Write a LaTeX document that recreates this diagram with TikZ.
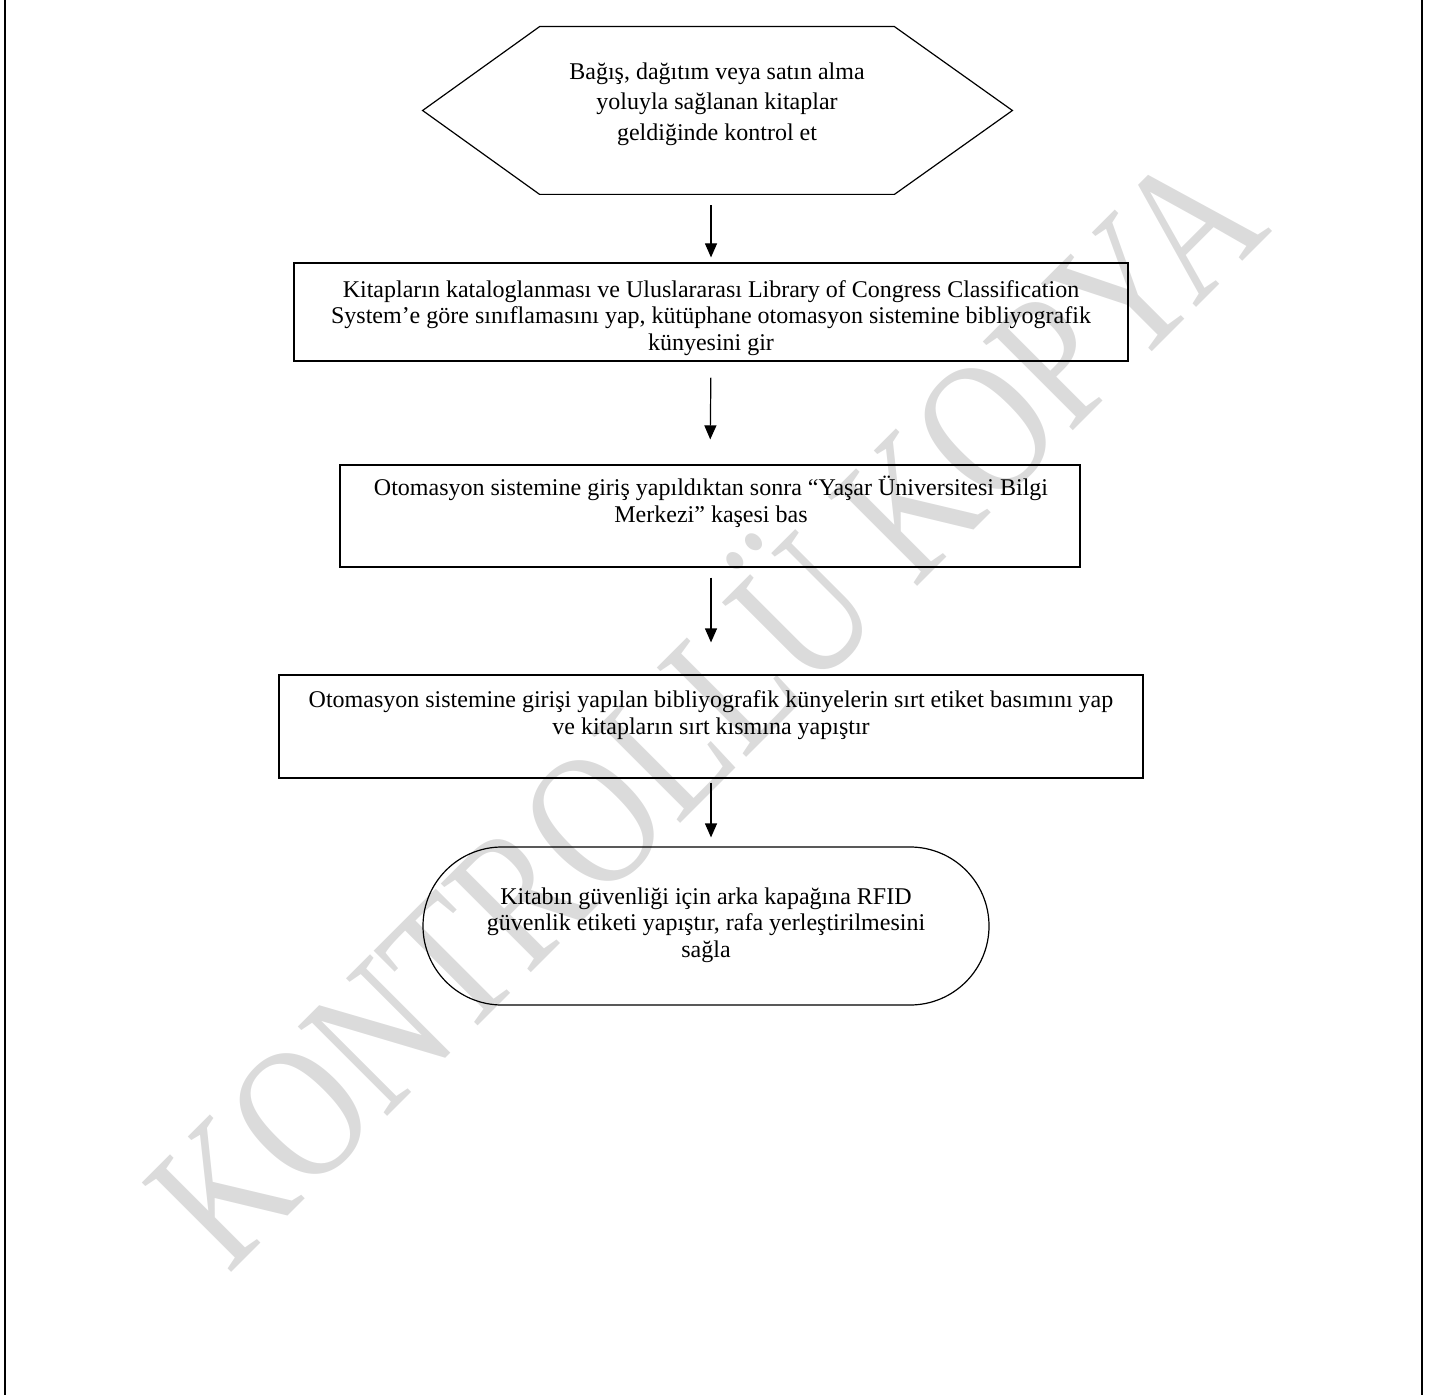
\documentclass[tikz,border=0pt]{standalone}
\usepackage{fontspec}
\setmainfont{Liberation Serif}
\usetikzlibrary{arrows.meta,calc}
\begin{document}
\begin{tikzpicture}[x=0.5pt,y=-0.5pt,
  shp/.style={draw=black,line width=0.6pt,inner sep=0pt},
  txt/.style={align=center,font=\fontsize{12}{13.3}\selectfont,inner sep=0pt},
  hextxt/.style={align=center,font=\fontsize{12}{15.2}\selectfont,inner sep=0pt},
  arr/.style={line width=0.6pt,-{Triangle[length=7pt,width=6pt]}},
  wm/.style={text=black!14,font=\fontsize{96.5}{100}\selectfont,inner sep=0pt},
  frame/.style={line width=1pt}]
\useasboundingbox (0,0) rectangle (1439,1395);
% watermark
\node[wm,anchor=base,rotate=45,xscale=0.79] (wmark) at (751,753) {KONTROLLÜ KOPYA};
% page frame
\coordinate (fl1) at (4.5,0); \coordinate (fl2) at (4.5,1395);
\coordinate (fr1) at (1422,0); \coordinate (fr2) at (1422,1395);
\draw[frame] (fl1) -- (fl2);
\draw[frame] (fr1) -- (fr2);
% hexagon
\node[inner sep=0pt,minimum width=294.5pt,minimum height=83.5pt] (hex) at (717.5,110.5) {};
\draw[line width=0.6pt] (hex.west) -- ($(hex.north west)+(117,0)$) -- ($(hex.north east)+(-118,0)$) -- (hex.east) -- ($(hex.south east)+(-118,0)$) -- ($(hex.south west)+(117,0)$) -- cycle;
\node[hextxt] (t0) at (717,104) {Bağış, dağıtım veya satın alma\\yoluyla sağlanan kitaplar\\geldiğinde kontrol et};
% boxes
\node[shp,minimum width=417pt,minimum height=49pt] (b1) at (711,312) {};
\node[txt] (t1) at (711,318) {Kitapların kataloglanması ve Uluslararası Library of Congress Classification\\System’e göre sınıflamasını yap, kütüphane otomasyon sistemine bibliyografik\\künyesini gir};
\node[shp,minimum width=370pt,minimum height=51pt] (b2) at (710,516) {};
\node[txt] (t2) at (711,502) {Otomasyon sistemine giriş yapıldıktan sonra “Yaşar Üniversitesi Bilgi\\Merkezi” kaşesi bas};
\node[shp,minimum width=432pt,minimum height=51.5pt] (b3) at (711,726.5) {};
\node[txt] (t3) at (711,715) {Otomasyon sistemine girişi yapılan bibliyografik künyelerin sırt etiket basımını yap\\ve kitapların sırt kısmına yapıştır};
\node[shp,rounded corners=39.5pt,minimum width=283pt,minimum height=79pt] (st) at (706,926) {};
\node[txt] (t4) at (706,925) {Kitabın güvenliği için arka kapağına RFID\\güvenlik etiketi yapıştır, rafa yerleştirilmesini\\sağla};
% arrows
\draw[arr,shorten <=5.5pt,shorten >=2.5pt] (b1.north |- hex.south) -- (b1.north);
\draw[arr,shorten <=8pt,shorten >=12.5pt] (b1.south) -- (b2.north);
\draw[arr,shorten <=5pt,shorten >=16pt] (b2.south -| b3.north) -- (b3.north);
\draw[arr,shorten <=2pt,shorten >=4.5pt] (b3.south) -- (b3.south |- st.north);
\end{tikzpicture}
\end{document}
